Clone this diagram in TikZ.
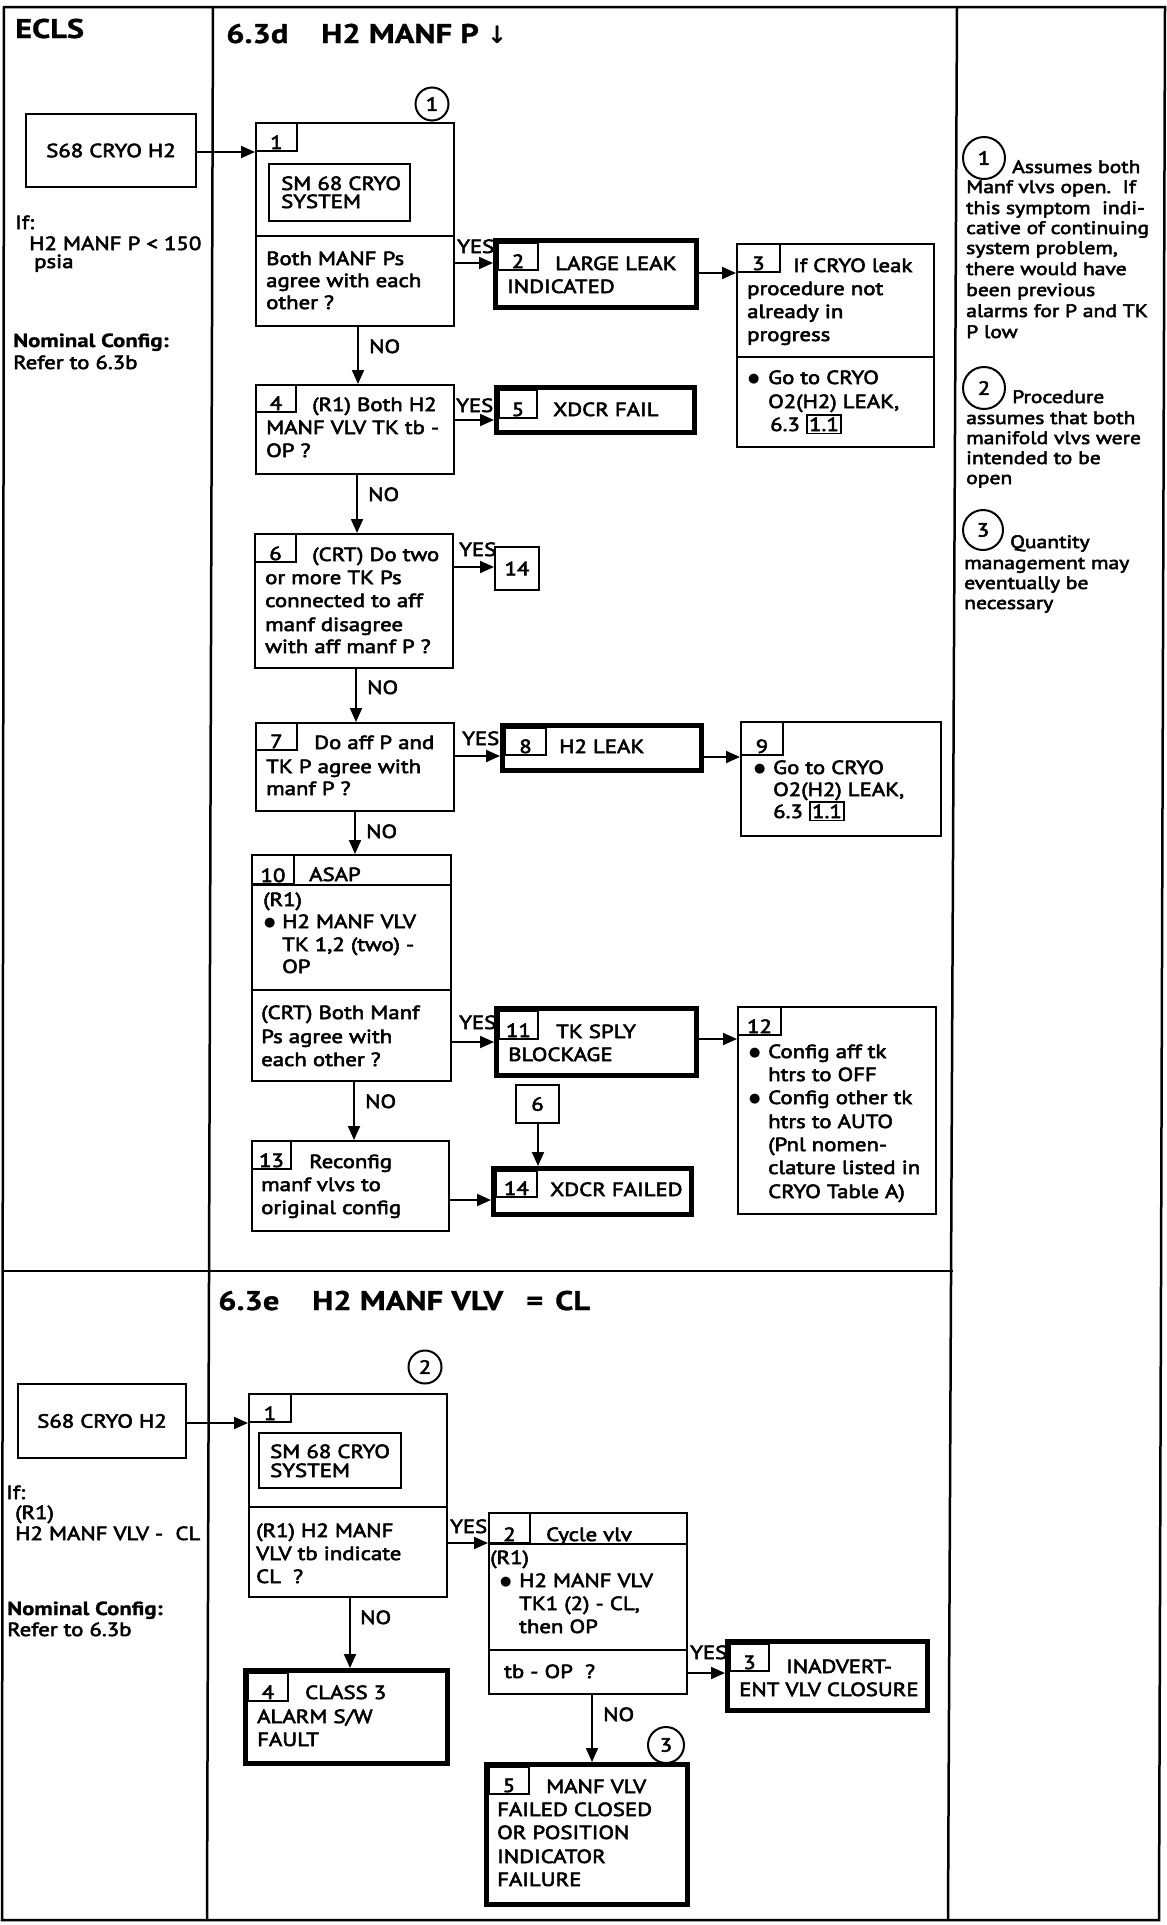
\documentclass[tikz,border=0pt]{standalone}
\usepackage{fontspec}
\setmainfont{PT Sans}[FakeStretch=1.2, UprightFeatures={FakeBold=3}, BoldFeatures={FakeBold=1}]
\newfontfamily\symf{DejaVu Sans}
\usetikzlibrary{arrows.meta}
\newcommand\refbox[1]{{\fboxsep=1.5pt\fboxrule=1.6pt\fbox{#1}}}
\newcommand\bul{{\symf\fontsize{13}{13}\selectfont ●}}
\tikzset{
 txt/.style={inner sep=0pt, font=\fontsize{19}{22}\selectfont, anchor=base west},
 ntxt/.style={inner sep=0pt, font=\fontsize{18}{20}\selectfont, anchor=base west},
 hd/.style={inner sep=0pt, font=\fontsize{27}{30}\selectfont\bfseries, anchor=base west},
 thinbox/.style={draw, line width=2pt, inner sep=0pt, anchor=north west},
 thickbox/.style={draw, line width=5pt, inner sep=0pt, anchor=north west},
 tagst/.style={draw, line width=1.8pt, inner sep=0pt, anchor=north west},
 arr/.style={line width=2pt, -{Triangle[length=14pt,width=12pt]}},
 frameln/.style={line width=2.5pt},
 circ/.style={circle, draw, line width=2pt, inner sep=0pt, font=\fontsize{19}{19}\selectfont},
}
\newcommand\thinb[5]{\node[thinbox, minimum width={#4-#2-2}, minimum height={#5-#3-2}] (#1) at (#2,-#3) {};}
\newcommand\thickb[5]{\node[thickbox, minimum width={#4-#2-5}, minimum height={#5-#3-5}] (#1) at (#2,-#3) {};}
\newcommand\tagb[6]{\node[tagst, minimum width={#4-#2-1.8}, minimum height={#5-#3-1.8}] (#1) at (#2,-#3) {};
 \node[txt, anchor=base] (#1n) at ({(#2+#4)/2},{-(#5)+3}) {#6};}
\newcommand\tx[4]{\node[txt] (#1) at (#2,-#3) {#4};}
\newcommand\nt[4]{\node[ntxt] (#1) at (#2,-#3) {#4};}
\newcommand\hdiv[2]{\draw[line width=2pt] (#1.west |- 0,-#2) -- (#1.east |- 0,-#2);}
\newcommand\harr[3]{\draw[arr] (#1.east |- 0,-#3) -- (#2.west |- 0,-#3);}
\newcommand\varr[3]{\draw[arr] (#1.south -| #3,0) -- (#2.north -| #3,0);}
\begin{document}
\begin{tikzpicture}[x=1pt,y=1pt]
\useasboundingbox (0,0) rectangle (1167,-1925);
% frame
\draw[frameln] (4,-7) -- (1165,-7) -- (1159,-1920) -- (2,-1920) -- cycle;
\draw[frameln] (213,-7) -- (207,-1920);
\draw[frameln] (957,-7) -- (948,-1920);
\draw[frameln] (3,-1271) -- (952.5,-1271);
% headers
\node[hd] (ecls) at (15,-38) {ECLS};
\node[hd] (h1a) at (226,-43) {6.3d};
\node[hd] (h1b) at (321,-43) {H2 MANF P {\symf\bfseries\fontsize{24}{24}\selectfont ↓}};
\node[hd] (h2a) at (218,-1310) {6.3e};
\node[hd] (h2b) at (312,-1310) {H2 MANF VLV};
\node[hd] (h2c) at (526,-1310) {=};
\node[hd] (h2d) at (555,-1310) {CL};
% ---------- section 6.3d ----------
\thinb{s1}{25}{113}{197}{188}
\node[txt, anchor=center] (s1t) at (s1) {S68 CRYO H2};
\tx{ifa}{15}{229}{If:}
\tx{ifb}{29}{250}{H2 MANF P < 150}
\tx{ifc}{34}{268}{psia}
\tx{noma}{13}{347}{\textbf{Nominal Config:}}
\tx{nomb}{13}{369}{Refer to 6.3b}
% box 1
\thinb{b1}{255}{122}{455}{327}
\hdiv{b1}{236}
\tagb{g1}{255}{122}{298}{152}{1}
\thinb{i1}{268}{163}{411}{222}
\tx{i1a}{281}{190}{SM 68 CRYO}
\tx{i1b}{281}{208}{SYSTEM}
\tx{q1a}{266}{265}{Both MANF Ps}
\tx{q1b}{266}{287}{agree with each}
\tx{q1c}{266}{309}{other ?}
\node[circ, minimum size=33pt] (c1) at (432,-104) {1};
\tx{y1}{457}{253}{YES}
% box 2
\thickb{b2}{493}{238}{699}{310}
\tagb{g2}{497}{242}{539}{271}{2}
\tx{b2a}{555}{270}{LARGE LEAK}
\tx{b2b}{507}{293}{INDICATED}
% box 3
\thinb{b3}{736}{243}{935}{448}
\hdiv{b3}{357}
\tagb{g3}{736}{243}{781}{273}{3}
\tx{b3a}{793}{272}{If CRYO leak}
\tx{b3b}{747}{295}{procedure not}
\tx{b3c}{747}{318}{already in}
\tx{b3d}{747}{341}{progress}
\tx{b3e}{748}{382}{\bul}
\tx{b3f}{768}{384}{Go to CRYO}
\tx{b3g}{768}{408}{O2(H2) LEAK,}
\tx{b3h}{770}{431}{6.3 \refbox{1.1}}
% box 4
\thinb{b4}{255}{384}{455}{475}
\tagb{g4}{255}{384}{297}{413}{4}
\tx{b4a}{312}{411}{(R1) Both H2}
\tx{b4b}{266}{434}{MANF VLV TK tb -}
\tx{b4c}{266}{457}{OP ?}
\tx{n1}{369}{353}{NO}
\tx{y2}{456}{412}{YES}
% box 5
\thickb{b5}{494}{385}{697}{435}
\tagb{g5}{498}{389}{538}{419}{5}
\tx{b5a}{553}{416}{XDCR FAIL}
% box 6
\thinb{b6}{254}{533}{454}{669}
\tagb{g6}{254}{533}{297}{563}{6}
\tx{b6a}{312}{561}{(CRT) Do two}
\tx{b6b}{265}{584}{or more TK Ps}
\tx{b6c}{265}{607}{connected to aff}
\tx{b6d}{265}{631}{manf disagree}
\tx{b6e}{265}{653}{with aff manf P ?}
\tx{n2}{368}{501}{NO}
\tx{y3}{459}{556}{YES}
\thinb{r14}{494}{546}{540}{591}
\node[txt, anchor=center] (r14t) at (r14) {14};
% box 7
\thinb{b7}{255}{722}{455}{812}
\tagb{g7}{255}{722}{298}{751}{7}
\tx{b7a}{314}{749}{Do aff P and}
\tx{b7b}{266}{773}{TK P agree with}
\tx{b7c}{266}{795}{manf P ?}
\tx{n3}{367}{694}{NO}
\tx{y4}{462}{745}{YES}
% box 8
\thickb{b8}{500}{723}{704}{773}
\tagb{g8}{504}{727}{547}{756}{8}
\tx{b8a}{559}{753}{H2 LEAK}
% box 9
\thinb{b9}{740}{721}{942}{837}
\tagb{g9}{740}{721}{784}{756}{9}
\tx{b9a}{754}{772}{\bul}
\tx{b9b}{773}{774}{Go to CRYO}
\tx{b9c}{773}{796}{O2(H2) LEAK,}
\tx{b9d}{773}{818}{6.3 \refbox{1.1}}
% box 10
\thinb{b10}{251}{854}{452}{1082}
\hdiv{b10}{885}
\hdiv{b10}{990}
\tagb{g10}{251}{854}{295}{885}{10}
\tx{b10a}{309}{881}{ASAP}
\tx{b10b}{263}{906}{(R1)}
\tx{b10c}{264}{926}{\bul}
\tx{b10d}{282}{928}{H2 MANF VLV}
\tx{b10e}{282}{951}{TK 1,2 (two) -}
\tx{b10f}{282}{973}{OP}
\tx{b10g}{261}{1019}{(CRT) Both Manf}
\tx{b10h}{261}{1043}{Ps agree with}
\tx{b10i}{261}{1066}{each other ?}
\tx{n4}{366}{838}{NO}
\tx{y5}{459}{1029}{YES}
% box 11
\thickb{b11}{494}{1006}{699}{1078}
\tagb{g11}{498}{1010}{539}{1040}{11}
\tx{b11a}{556}{1038}{TK SPLY}
\tx{b11b}{508}{1061}{BLOCKAGE}
% box 12
\thinb{b12}{737}{1006}{937}{1215}
\tagb{g12}{737}{1006}{782}{1036}{12}
\tx{b12a}{749}{1056}{\bul}
\tx{b12b}{768}{1058}{Config aff tk}
\tx{b12c}{768}{1081}{htrs to OFF}
\tx{b12d}{749}{1102}{\bul}
\tx{b12e}{768}{1104}{Config other tk}
\tx{b12f}{768}{1128}{htrs to AUTO}
\tx{b12g}{768}{1151}{(Pnl nomen-}
\tx{b12h}{768}{1174}{clature listed in}
\tx{b12i}{768}{1198}{CRYO Table A)}
% ref 6
\thinb{r6}{515}{1084}{560}{1124}
\node[txt, anchor=center] (r6t) at (r6) {6};
% box 13
\thinb{b13}{251}{1140}{450}{1232}
\tagb{g13}{251}{1140}{292}{1170}{13}
\tx{b13a}{309}{1168}{Reconfig}
\tx{b13b}{261}{1191}{manf vlvs to}
\tx{b13c}{261}{1214}{original config}
\tx{n5}{365}{1108}{NO}
% box 14
\thickb{b14}{491}{1166}{694}{1217}
\tagb{g14}{495}{1170}{538}{1198}{14}
\tx{b14a}{550}{1196}{XDCR FAILED}
% notes
\node[circ, minimum size=42pt] (nc1) at (984,-158) {1};
\nt{na1}{1012}{173}{Assumes both}
\nt{na2}{966}{193}{Manf vlvs open.\ \ If}
\nt{na3}{966}{214}{this symptom\ \ indi-}
\nt{na4}{966}{234}{cative of continuing}
\nt{na5}{966}{254}{system problem,}
\nt{na6}{966}{275}{there would have}
\nt{na7}{966}{296}{been previous}
\nt{na8}{966}{317}{alarms for P and TK}
\nt{na9}{966}{338}{P low}
\node[circ, minimum size=42pt] (nc2) at (984,-388) {2};
\nt{nb1}{1012}{403}{Procedure}
\nt{nb2}{966}{424}{assumes that both}
\nt{nb3}{966}{444}{manifold vlvs were}
\nt{nb4}{966}{464}{intended to be}
\nt{nb5}{966}{484}{open}
\node[circ, minimum size=40pt] (nc3) at (983,-530) {3};
\nt{nc1a}{1010}{548}{Quantity}
\nt{nc1b}{964}{569}{management may}
\nt{nc1c}{964}{589}{eventually be}
\nt{nc1d}{964}{609}{necessary}
% ---------- section 6.3e ----------
\thinb{s2}{17}{1383}{187}{1459}
\node[txt, anchor=center] (s2t) at (s2) {S68 CRYO H2};
\tx{jfa}{6}{1499}{If:}
\tx{jfb}{15}{1519}{(R1)}
\tx{jfc}{15}{1540}{H2 MANF VLV -\ \ CL}
\tx{jnoma}{7}{1615}{\textbf{Nominal Config:}}
\tx{jnomb}{7}{1636}{Refer to 6.3b}
% e1
\thinb{e1}{248}{1393}{448}{1598}
\hdiv{e1}{1507}
\tagb{f1}{248}{1393}{292}{1423}{1}
\thinb{k1}{258}{1432}{402}{1489}
\tx{k1a}{270}{1458}{SM 68 CRYO}
\tx{k1b}{270}{1477}{SYSTEM}
\tx{e1a}{256}{1537}{(R1) H2 MANF}
\tx{e1b}{256}{1560}{VLV tb indicate}
\tx{e1c}{256}{1583}{CL\ \ ?}
\node[circ, minimum size=33pt] (c2) at (425,-1367) {2};
\tx{y6}{450}{1533}{YES}
% e2
\thinb{e2}{488}{1512}{688}{1695}
\hdiv{e2}{1544}
\hdiv{e2}{1650}
\tagb{f2}{488}{1512}{531}{1544}{2}
\tx{e2a}{546}{1541}{Cycle vlv}
\tx{e2b}{490}{1564}{(R1)}
\tx{e2c}{500}{1585}{\bul}
\tx{e2d}{519}{1587}{H2 MANF VLV}
\tx{e2e}{519}{1610}{TK1 (2) - CL,}
\tx{e2f}{519}{1633}{then OP}
\tx{e2g}{504}{1678}{tb - OP\ \ ?}
\tx{y7}{690}{1659}{YES}
% e3
\thickb{e3}{725}{1639}{930}{1713}
\tagb{f3}{729}{1643}{770}{1672}{3}
\tx{e3a}{786}{1673}{INADVERT-}
\tx{e3b}{739}{1696}{ENT VLV CLOSURE}
% e4
\thickb{e4}{243}{1668}{450}{1766}
\tagb{f4}{247}{1672}{289}{1702}{4}
\tx{e4a}{305}{1699}{CLASS 3}
\tx{e4b}{257}{1723}{ALARM S/W}
\tx{e4c}{257}{1746}{FAULT}
\tx{n6}{360}{1624}{NO}
% e5
\thickb{e5}{484}{1762}{690}{1907}
\tagb{f5}{488}{1766}{530}{1795}{5}
\tx{e5a}{546}{1793}{MANF VLV}
\tx{e5b}{497}{1816}{FAILED CLOSED}
\tx{e5c}{497}{1839}{OR POSITION}
\tx{e5d}{497}{1863}{INDICATOR}
\tx{e5e}{497}{1886}{FAILURE}
\tx{n7}{603}{1721}{NO}
\node[circ, minimum size=36pt] (c3) at (666,-1745) {3};
% ---------- connectors ----------
\harr{s1}{b1}{152}
\harr{b1}{b2}{263}
\harr{b2}{b3}{273}
\varr{b1}{b4}{358}
\harr{b4}{b5}{420}
\varr{b4}{b6}{357}
\harr{b6}{r14}{567}
\varr{b6}{b7}{356}
\harr{b7}{b8}{756}
\harr{b8}{b9}{757}
\varr{b7}{b10}{355}
\harr{b10}{b11}{1042}
\harr{b11}{b12}{1039}
\varr{b10}{b13}{354}
\varr{r6}{b14}{538}
\harr{b13}{b14}{1200}
\harr{s2}{e1}{1423}
\harr{e1}{e2}{1543}
\harr{e2}{e3}{1673}
\varr{e1}{e4}{350}
\varr{e2}{e5}{592}
\end{tikzpicture}
\end{document}
